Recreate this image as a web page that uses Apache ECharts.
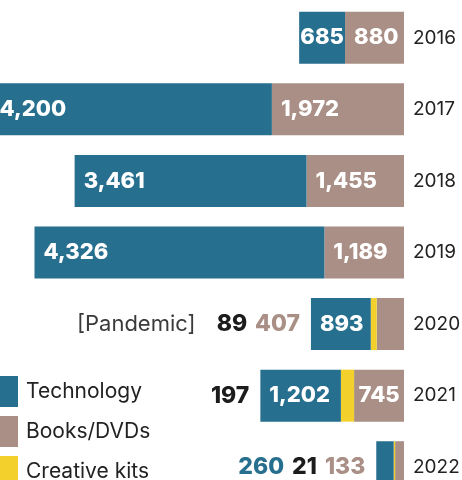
<!DOCTYPE html>
<html>
<head>
    <meta charset="utf-8">
    <title>Checkouts</title>
    <script src="https://cdn.jsdelivr.net/npm/echarts@6/dist/echarts.min.js"></script>
    <style>
        html, body { margin: 0; padding: 0; background: #fff; }
        #main { width: 462px; height: 480px; }
    </style>
</head>
<body>
    <div id="main"></div>
    <script type="text/javascript">
        // data
        var years = ['2016', '2017', '2018', '2019', '2020', '2021', '2022'];
        var technology = [685, 4200, 3461, 4326, 893, 1202, 260];
        var books = [880, 1972, 1455, 1189, 407, 745, 133];
        var kits = [0, 0, 0, 0, 89, 197, 21];
        // where the value goes: 'in' = left inside, 'mid' = centred, 'out' = left of bar
        var techPlace = ['mid', 'in', 'in', 'in', 'in', 'in', 'out'];
        var booksPlace = ['in', 'in', 'in', 'in', 'out', 'mid', 'out'];
        var notes = ['', '', '', '', '[Pandemic]', '', ''];

        var blue = '#276f8e', brown = '#a98f85', yellow = '#f4d02c', ink = '#1c1c1c';
        var labelFont = 'Inter';

        var myChart = echarts.init(document.getElementById('main'));

        function fmt(v) { return v.toLocaleString('en-US'); }

        var baseLabel = {
            show: true, position: 'insideLeft', distance: 9,
            color: '#fff', fontFamily: labelFont, fontWeight: 800, fontSize: 22
        };

        function withLabels(values, places) {
            return values.map(function (v, i) {
                var p = places[i];
                return {
                    value: v,
                    label: p === 'out' ? { show: false }
                        : { show: true, position: p === 'mid' ? 'inside' : 'insideLeft', formatter: fmt(v) }
                };
            });
        }

        // text set to the left of the whole bar
        function outsideText(i) {
            var parts = [];
            if (notes[i]) parts.push('{p|' + notes[i] + '}{g|}');
            if (techPlace[i] === 'out') parts.push('{t|' + fmt(technology[i]) + '}');
            if (kits[i]) parts.push('{k|' + fmt(kits[i]) + '}');
            if (booksPlace[i] === 'out') parts.push('{b|' + fmt(books[i]) + '}');
            return parts.join('{s|}');
        }

        var option = {
            animation: false,
            grid: { left: 0, right: 58, top: 2, height: 501, outerBoundsMode: 'none' },
            xAxis: {
                type: 'value', inverse: true, min: 0, max: 6030,
                show: false
            },
            yAxis: {
                type: 'category', data: years, inverse: true, position: 'right',
                axisLine: { show: false }, axisTick: { show: false },
                axisLabel: { margin: 9, fontSize: 19, color: '#222', fontFamily: 'Inter' }
            },
            legend: {
                orient: 'vertical', left: -12, top: 376, height: 140, padding: 0,
                itemWidth: 30, itemHeight: 31, itemGap: 9, icon: 'rect',
                data: ['Technology', 'Books/DVDs', 'Creative kits'],
                textStyle: { fontSize: 21, color: '#222', fontFamily: 'Inter', padding: [0, 0, 0, 3] }
            },
            series: [
                {
                    name: 'Books/DVDs', type: 'bar', stack: 'all', barWidth: 52, clip: false,
                    itemStyle: { color: brown }, data: withLabels(books, booksPlace),
                    label: baseLabel
                },
                {
                    name: 'Creative kits', type: 'bar', stack: 'all', clip: false,
                    itemStyle: { color: yellow }, data: kits
                },
                {
                    name: 'Technology', type: 'bar', stack: 'all', clip: false,
                    itemStyle: { color: blue }, data: withLabels(technology, techPlace),
                    label: baseLabel
                },
                {
                    name: 'outside', type: 'bar', stack: 'all', clip: false,
                    data: years.map(function () { return 0; }),
                    itemStyle: { color: 'transparent' },
                    label: {
                        show: true, position: 'left', distance: 11,
                        formatter: function (p) { return outsideText(p.dataIndex); },
                        rich: {
                            t: { color: blue, fontFamily: labelFont, fontWeight: 800, fontSize: 23 },
                            k: { color: ink, fontFamily: labelFont, fontWeight: 800, fontSize: 23 },
                            b: { color: brown, fontFamily: labelFont, fontWeight: 800, fontSize: 23 },
                            p: { color: '#3a3a3a', fontFamily: 'Inter', fontSize: 22 },
                            s: { width: 8 },
                            g: { width: 13 }
                        }
                    }
                }
            ]
        };

        myChart.setOption(option);
    </script>
</body>
</html>
